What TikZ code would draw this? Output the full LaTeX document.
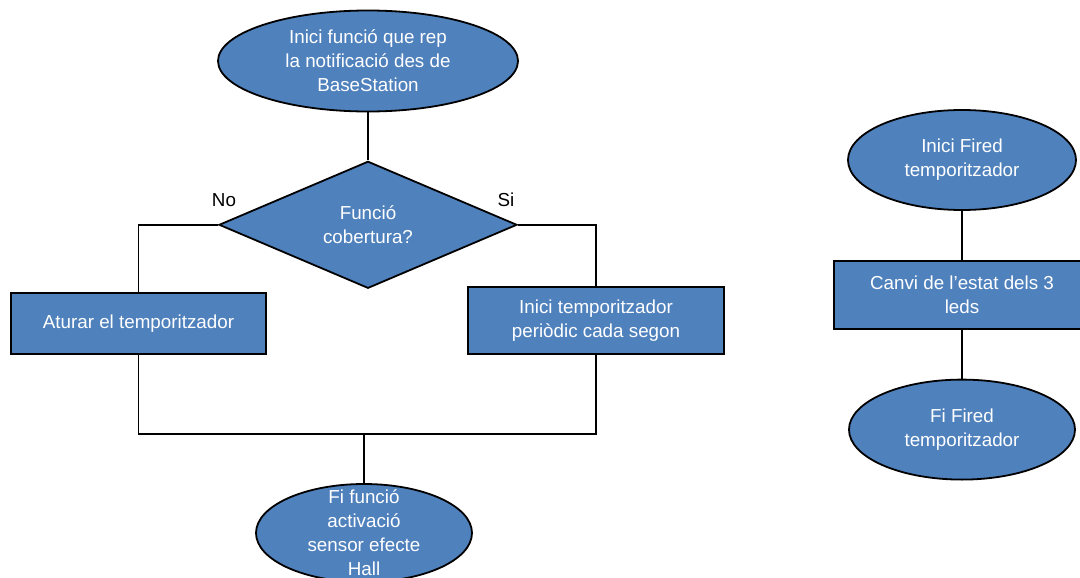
\documentclass[tikz,border=0pt]{standalone}
\usepackage{fontspec}
\setmainfont{Liberation Sans}
\usepackage{tikz}
\usetikzlibrary{positioning, shapes.geometric}

\definecolor{officeblue}{RGB}{79,129,189}

\begin{document}
\begin{tikzpicture}[
  x=1pt, y=-1pt,
  font=\fontsize{18.8}{24}\selectfont,
  flowshape/.style  = {draw=black, line width=1.8pt, fill=officeblue, inner sep=0pt},
  term/.style   = {flowshape, ellipse},
  termtext/.style = {text=white, align=center, inner sep=0pt},
  process/.style = {flowshape, rectangle, text=white, align=center},
  decision/.style = {flowshape, diamond, aspect=2.35, text=white, align=center,
                     minimum width=298pt, minimum height=127pt},
  line/.style   = {line width=1.8pt},
  lbl/.style    = {text=black, inner sep=0pt},
  node distance=48pt
]
  \useasboundingbox (0,0) rectangle (1080,578);

  % start of the notification function
  \node[term, minimum width=300pt, minimum height=101pt,
        label={[termtext]center:{Inici funció que rep\\la notificació des de\\BaseStation}}]
        (start) at (368,61) {};

  % coverage function?
  \node[decision, below=48pt of start] (cover) {Funció\\cobertura?};

  % both branches
  \node[process, minimum width=255pt, minimum height=61pt] (stoptimer) at (138.5,323.5)
        {Aturar el temporitzador};
  \node[process, minimum width=256pt, minimum height=67pt] (starttimer) at (596,320.5)
        {Inici temporitzador\\periòdic cada segon};

  % end of the function
  \node[term, minimum width=216pt, minimum height=98pt,
        label={[termtext]center:{Fi funció\\activació\\sensor efecte\\Hall}}]
        (endfunc) at (364,533) {};

  % timer fired routine
  \node[term, minimum width=228pt, minimum height=100pt,
        label={[termtext]center:{Inici Fired\\temporitzador}}]
        (fired) at (962,160) {};
  \node[process, minimum width=256pt, minimum height=68pt, below=49pt of fired] (leds)
        {Canvi de l’estat dels 3\\leds};
  \node[term, minimum width=226pt, minimum height=100pt, below=49pt of leds,
        label={[termtext]center:{Fi Fired\\temporitzador}}]
        (endfired) {};

  % branch labels
  \node[lbl] (nolbl) at (224,200) {No};
  \node[lbl] (silbl) at (506,200) {Si};

  % connectors
  \coordinate (merge) at (364,434);
  \draw[line] (start.south) -- (cover.north);
  \draw[line] (cover.west) -| (stoptimer.north);
  \draw[line] (cover.east) -| (starttimer.north);
  \draw[line] (stoptimer.south) |- (merge) -| (starttimer.south);
  \draw[line] (merge) -- (endfunc.north);

  \draw[line] (fired.south) -- (leds.north);
  \draw[line] (leds.south) -- (endfired.north);

\end{tikzpicture}
\end{document}
